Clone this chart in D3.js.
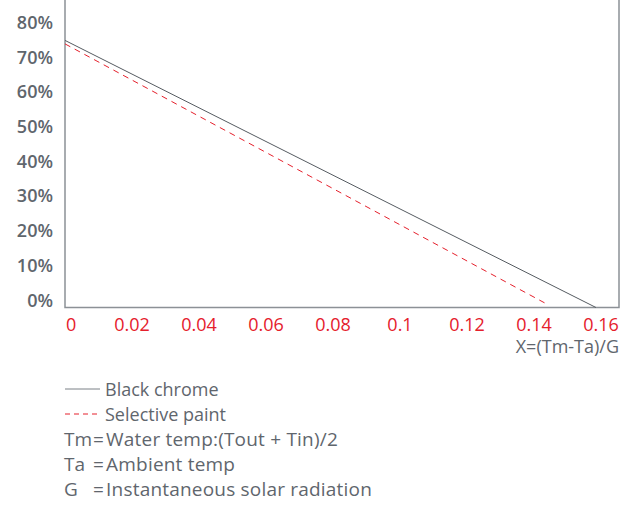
<!DOCTYPE html>
<html>
<head>
    <meta charset="utf-8">
    <style>
        html, body { padding: 0; margin: 0; background: #fff; }
        svg { display: block; }
        text { font-family: "Open Sans", sans-serif; }
    </style>
</head>
<body>
    <div id="chart"></div>
    <script src="https://cdn.jsdelivr.net/npm/d3@7/dist/d3.min.js"></script>
    <script>
        // data
        const xTicks = [0, 0.02, 0.04, 0.06, 0.08, 0.1, 0.12, 0.14, 0.16];
        const yTicks = [0, 0.1, 0.2, 0.3, 0.4, 0.5, 0.6, 0.7, 0.8];
        const blackX = [0, 0.1585];
        const blackY = [0.77, 0];
        const paintX = [0, 0.1440];
        const paintY = [0.76, 0.009];
        const notes = [
            ['Tm', 'Water temp:(Tout + Tin)/2'],
            ['Ta', 'Ambient temp'],
            ['G', 'Instantaneous solar radiation']
        ];

        const width = 634, height = 505;
        const grey = '#5f666d', red = '#e5202c';

        const svg = d3.select('#chart').append('svg')
            .attr('width', width)
            .attr('height', height);

        const x = d3.scaleLinear().domain([0, 0.16]).range([65, 601]);
        const y = d3.scaleLinear().domain([0, 0.8]).range([307.5, 30]);
        const right = 619;

        // frame (top is cut off)
        svg.append('path')
            .attr('d', `M${x(0)},-2V${y(0)}H${right}V-2`)
            .attr('fill', 'none')
            .attr('stroke', '#8c9196')
            .attr('stroke-width', 1.5);

        // y labels
        svg.append('g')
            .selectAll('text')
            .data(yTicks)
            .join('text')
            .attr('x', 53)
            .attr('y', d => y(d) - 1)
            .attr('text-anchor', 'end')
            .attr('fill', grey)
            .style('font-size', '18px')
            .style('font-weight', 600)
            .text(d => d3.format('.0%')(d));

        // x labels
        svg.append('g')
            .selectAll('text')
            .data(xTicks)
            .join('text')
            .attr('x', d => d === 0 ? x(d) + 1 : x(d))
            .attr('y', 331)
            .attr('text-anchor', d => d === 0 ? 'start' : 'middle')
            .attr('fill', red)
            .style('font-size', '18px')
            .text(d => d === 0 ? '0' : String(d));

        svg.append('text')
            .attr('x', right)
            .attr('y', 353)
            .attr('text-anchor', 'end')
            .attr('fill', grey)
            .style('font-size', '18px')
            .text('X=(Tm-Ta)/G');

        const line = d3.line().x(d => x(d[0])).y(d => y(d[1]));

        svg.append('path')
            .datum(d3.zip(blackX, blackY))
            .attr('d', line)
            .attr('fill', 'none')
            .attr('stroke', '#555b61')
            .attr('stroke-width', 1);

        svg.append('path')
            .datum(d3.zip(paintX, paintY))
            .attr('d', line)
            .attr('fill', 'none')
            .attr('stroke', red)
            .attr('stroke-width', 1)
            .attr('stroke-dasharray', '6,5');

        // legend
        const lg = svg.append('g');
        lg.append('line')
            .attr('x1', 65).attr('x2', 100).attr('y1', 389).attr('y2', 389)
            .attr('stroke', '#7a8086').attr('stroke-width', 1);
        lg.append('text')
            .attr('x', 105).attr('y', 396)
            .attr('fill', grey).style('font-size', '18px')
            .text('Black chrome');
        lg.append('line')
            .attr('x1', 65).attr('x2', 100).attr('y1', 414).attr('y2', 414)
            .attr('stroke', red).attr('stroke-width', 1)
            .attr('stroke-dasharray', '5,4');
        lg.append('text')
            .attr('x', 105).attr('y', 421)
            .attr('fill', grey).style('font-size', '18px')
            .text('Selective paint');

        const rows = lg.selectAll('g.note')
            .data(notes)
            .join('g')
            .attr('class', 'note')
            .attr('transform', (d, i) => `translate(0,${446 + i * 25})`);
        const keys = rows.append('text').attr('x', 64).attr('fill', grey)
            .style('font-size', '19px').text(d => d[0]);
        const keyW = d3.max(keys.nodes(), n => n.getComputedTextLength());
        rows.append('text').attr('x', 64 + keyW + 1).attr('fill', grey)
            .style('font-size', '19px').text('=');
        rows.append('text').attr('x', 64 + keyW + 14).attr('fill', grey)
            .style('font-size', '19px').style('letter-spacing', '0.2px')
            .text(d => d[1]);
    </script>
</body>
</html>
